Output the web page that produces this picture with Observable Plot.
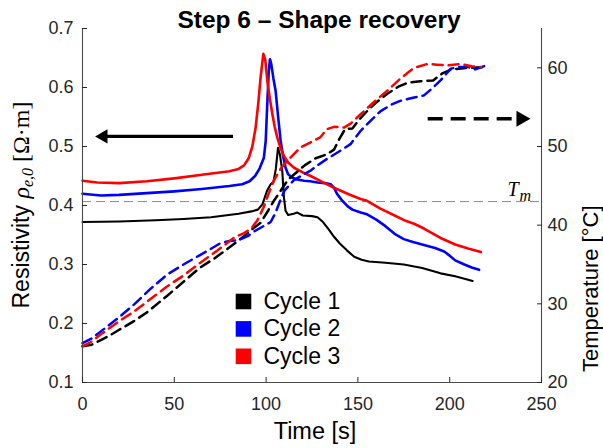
<!DOCTYPE html>
<html><head><meta charset="utf-8">
<script src="https://cdn.jsdelivr.net/npm/d3@7"></script>
<script src="https://cdn.jsdelivr.net/npm/@observablehq/plot@0.6"></script>
<style>body{margin:0;background:#fff}#chart svg{display:block}</style>
</head><body><div id="chart"></div>
<script>
// ---------- data ----------
const cycles = ["Cycle 1", "Cycle 2", "Cycle 3"];
const colors = ["#000000", "#0000ff", "#ff0000"];
const xTicks = [0, 50, 100, 150, 200, 250];
const yTicks = [0.1, 0.2, 0.3, 0.4, 0.5, 0.6, 0.7];
const tempTicks = [20, 30, 40, 50, 60];
const xDomain = [0, 250];
const yDomain = [0.1, 0.7];
const tempDomain = [20, 65];
const Tm = 43;
const titleText = "Step 6 – Shape recovery";
const xLabel = "Time [s]";
const rightLabel = "Temperature [°C]";

// resistivity (left axis)
const time1 = [0,20,40,55,70,85,92,95.5,98,100.5,102.5,104,105.3,106.5,107.6,108.8,109.7,110.6,112,115,117,120,125,128,131,134,137,140,144,148,152,156,165,175,185,195,203,212.5];
const rho1  = [0.372,0.373,0.375,0.377,0.380,0.386,0.390,0.393,0.402,0.425,0.436,0.440,0.462,0.498,0.485,0.459,0.414,0.391,0.384,0.386,0.388,0.383,0.382,0.380,0.372,0.360,0.347,0.336,0.324,0.313,0.308,0.305,0.303,0.300,0.294,0.285,0.280,0.272];
const time2 = [0,10,20,35,50,65,80,87,91,94,96.5,98.8,99.8,100.7,101.4,102.1,102.8,104,105.2,106.5,107.9,109.3,110.6,112,114.3,117,120.6,124,128,132,135.2,137,138.8,141,144.3,147,151.5,155,160,165,170,175,180,186,192,197,200,203,208,212,216];
const rho2  = [0.420,0.417,0.418,0.421,0.424,0.428,0.433,0.436,0.441,0.450,0.463,0.481,0.510,0.577,0.625,0.648,0.640,0.615,0.594,0.552,0.510,0.483,0.464,0.453,0.447,0.444,0.442,0.441,0.439,0.438,0.436,0.430,0.419,0.410,0.399,0.393,0.388,0.385,0.376,0.365,0.352,0.343,0.338,0.333,0.328,0.322,0.315,0.307,0.300,0.295,0.291];
const time3 = [0,8,20,35,50,65,80,85,88,90.5,92.5,94.3,95.8,97,98.5,99.5,100.7,102,103.4,104.7,106.1,107.8,109.7,112,115.2,120,124.3,130,137,145,151.5,155,162,170,176,180.6,186,195,203,210,217];
const rho3  = [0.442,0.439,0.438,0.441,0.446,0.452,0.458,0.462,0.468,0.480,0.500,0.532,0.575,0.617,0.657,0.648,0.611,0.582,0.555,0.533,0.515,0.498,0.484,0.473,0.464,0.456,0.450,0.441,0.430,0.419,0.411,0.408,0.395,0.383,0.374,0.369,0.361,0.345,0.334,0.327,0.321];

// temperature (right axis)
const timeT1 = [0,5,10,15,20,28,35,46,55,64,72,79,83,88,93,97,101,104,108,112,116,121,127,133,137,140,143,147,151,155,160,166,172,177,184,191,196,201,210,220];
const temp1  = [24.6,24.8,25.4,26.0,26.7,27.8,28.9,31.0,32.8,34.6,35.8,37.0,37.7,38.6,39.6,40.3,41.8,43.0,44.4,45.8,46.6,47.6,48.5,49.0,49.6,51.0,52.2,52.3,53.5,54.5,55.6,56.7,57.6,58.1,58.3,58.4,59.3,59.8,60.0,60.1];
const timeT2 = [0,5,10,20,28,37,46,55,64,70,75,80,85,90,93.4,98,102.5,105,108,110,115,120,124,128,133,140,146,151.5,157,162.4,168,173,180,186,190,195,200.6,205,210,214,219.7];
const temp2  = [25.0,25.6,26.5,28.3,29.9,31.9,33.7,35.0,36.2,37.0,37.7,38.0,38.1,38.6,39.2,39.8,40.4,41.5,43.3,44.4,45.7,46.4,46.9,47.6,48.4,49.4,50.3,52.0,53.3,54.5,55.3,55.8,56.2,56.5,57.3,58.4,59.9,60.1,60.1,59.8,60.3];
const timeT3 = [0,5,9.8,20,28,37,46,55,64,73,82.5,88,92,95.2,98.7,101,104.3,108,111.6,115,118.8,124,129.7,133,137,142.4,146,151.5,158,166,173,180.6,188,193,198.8,206,212,217];
const temp3  = [24.6,25.2,26.1,27.8,29.0,30.6,32.2,33.6,35.2,36.7,38.4,39.0,39.6,40.6,42.3,43.8,45.7,47.2,48.2,49.0,49.9,50.5,51.2,52.2,52.5,52.4,52.9,54.1,55.5,57.1,58.6,60.0,60.5,60.4,60.3,60.5,60.2,60.1];

// annotation arrows (data coordinates)
const arrowFrom  = [82, 188];
const arrowTo    = [7, 243.8];
const arrowLevel = [0.517, 0.547];

// ---------- build ----------
const W = 603, H = 448;
const mL = 82, mR = 62, mT = 28, mB = 66;
const toRho = d3.scaleLinear(tempDomain, yDomain);

const resTimes = [time1, time2, time3], resVals = [rho1, rho2, rho3];
const tTimes = [timeT1, timeT2, timeT3], tVals = [temp1, temp2, temp3];
const resRows = cycles.map((c, i) => resTimes[i].map((t, j) => ({t, v: resVals[i][j], cycle: c})));
const tRows = cycles.map((c, i) => tTimes[i].map((t, j) => ({t, v: toRho(tVals[i][j]), cycle: c})));

const pxPerX = (W - mL - mR) / (xDomain[1] - xDomain[0]);
const arrows = arrowFrom.map((x1, i) => {
  const dir = Math.sign(arrowTo[i] - x1);
  return {x1, x2: arrowTo[i] - dir * 6 / pxPerX, tip: arrowTo[i], y: arrowLevel[i], dir, dashed: i === 1};
});

const sans = "Liberation Sans, Arial, Helvetica, sans-serif";
const serif = "Liberation Serif, Times New Roman, serif";
const axisColor = "#262626";

const marks = [];
// Tm line
marks.push(Plot.ruleY([toRho(Tm)], {stroke: "#8a8a8a", strokeWidth: 1, strokeDasharray: "9,5"}));
// resistivity solid lines
cycles.forEach((c, i) => marks.push(Plot.line(resRows[i], {x: "t", y: "v", stroke: colors[i], strokeWidth: i === 0 ? 2.1 : 2.6, strokeLinejoin: "round"})));
// temperature dashed lines
cycles.forEach((c, i) => marks.push(Plot.line(tRows[i], {x: "t", y: "v", stroke: colors[i], strokeWidth: 2.5, strokeDasharray: "10,6"})));
// arrows
marks.push(Plot.link(arrows.filter(a => !a.dashed), {x1: "x1", x2: "x2", y1: "y", y2: "y", stroke: "black", strokeWidth: 3.3}));
marks.push(Plot.link(arrows.filter(a => a.dashed), {x1: "x1", x2: "x2", y1: "y", y2: "y", stroke: "black", strokeWidth: 3.5, strokeDasharray: "15,8"}));
marks.push(Plot.dot(arrows.filter(a => a.dir < 0), {x: "tip", y: "y", symbol: "triangle", rotate: -90, r: 5.3, fill: "black", stroke: null, dx: 8}));
marks.push(Plot.dot(arrows.filter(a => a.dir > 0), {x: "tip", y: "y", symbol: "triangle", rotate: 90, r: 6, fill: "black", stroke: null, dx: -9}));
// axis lines
marks.push(Plot.ruleX(xDomain, {stroke: "#4a4a4a", strokeWidth: 1.1}));
marks.push(Plot.ruleY([yDomain[0]], {stroke: "#4a4a4a", strokeWidth: 1.1}));
// axes
marks.push(Plot.axisX(xTicks, {tickSize: -5, tickPadding: 20, fontSize: 18, color: axisColor, label: null, fontFamily: sans}));
marks.push(Plot.axisY(yTicks, {anchor: "left", tickSize: -5, tickPadding: 14, fontSize: 18, color: axisColor, label: null, tickFormat: d3.format(".1f"), fontFamily: sans}));
marks.push(Plot.axisY(tempTicks.map(toRho), {anchor: "right", tickSize: -5, tickPadding: 11, fontSize: 18, color: axisColor, label: null, tickFormat: v => String(Math.round(toRho.invert(v))), fontFamily: sans}));
// Tm label
marks.push(Plot.text([toRho(Tm)], {y: d => d, frameAnchor: "right", text: () => "T", textAnchor: "start", lineAnchor: "bottom", dx: -34, dy: -5.5, fontSize: 20, fontStyle: "italic", fontFamily: serif, fill: "#000"}));
marks.push(Plot.text([toRho(Tm)], {y: d => d, frameAnchor: "right", text: () => "m", textAnchor: "start", lineAnchor: "bottom", dx: -22, dy: -1, fontSize: 16, fontStyle: "italic", fontFamily: serif, fill: "#000"}));
// legend
cycles.forEach((c, i) => {
  marks.push(Plot.dot([c], {frameAnchor: "top-left", dx: 161, dy: 273 + i * 27.4, symbol: "square", r: 8.8, fill: colors[i], stroke: null}));
  marks.push(Plot.text([c], {frameAnchor: "top-left", dx: 181, dy: 273 + i * 27.4, text: d => d, textAnchor: "start", lineAnchor: "middle", fontSize: 23, fontFamily: sans, fill: "#000"}));
});
// title & labels
marks.push(Plot.text([titleText], {frameAnchor: "top", text: d => d, lineAnchor: "bottom", dx: 7, dy: -1, fontSize: 24.5, fontWeight: "bold", fontFamily: sans, fill: "#000"}));
marks.push(Plot.text([xLabel], {frameAnchor: "bottom", text: d => d, lineAnchor: "bottom", dx: 3, dy: 56, fontSize: 23.5, fontFamily: sans, fill: "#000"}));
marks.push(Plot.text([rightLabel], {frameAnchor: "right", text: d => d, rotate: -90, lineAnchor: "bottom", dx: 56, dy: 0, fontSize: 22, fontFamily: sans, fill: "#000"}));

const chart = Plot.plot({
  width: W, height: H,
  marginLeft: mL, marginRight: mR, marginTop: mT, marginBottom: mB,
  x: {domain: xDomain},
  y: {domain: yDomain},
  style: {background: "white", fontFamily: sans, overflow: "visible"},
  marks
});
document.getElementById("chart").appendChild(chart);

// rich y-axis label (mixed fonts, subscript)
const svg = d3.select(chart.tagName.toLowerCase() === "svg" ? chart : chart.querySelector("svg"));
const cy = (mT + (H - mB)) / 2;
const lbl = svg.append("text")
  .attr("transform", `translate(28.5,${cy}) rotate(-90)`)
  .attr("text-anchor", "middle")
  .attr("fill", "#000");
lbl.append("tspan").attr("font-family", sans).attr("font-size", 23).text("Resistivity ");
lbl.append("tspan").attr("font-family", serif).attr("font-style", "italic").attr("font-size", 24).text("ρ");
lbl.append("tspan").attr("font-family", serif).attr("font-style", "italic").attr("font-size", 16).attr("dy", 4).text("e,0");
lbl.append("tspan").attr("font-family", serif).attr("font-size", 24).attr("dy", -4).text(" [Ω·m]");
</script>
</body></html>
